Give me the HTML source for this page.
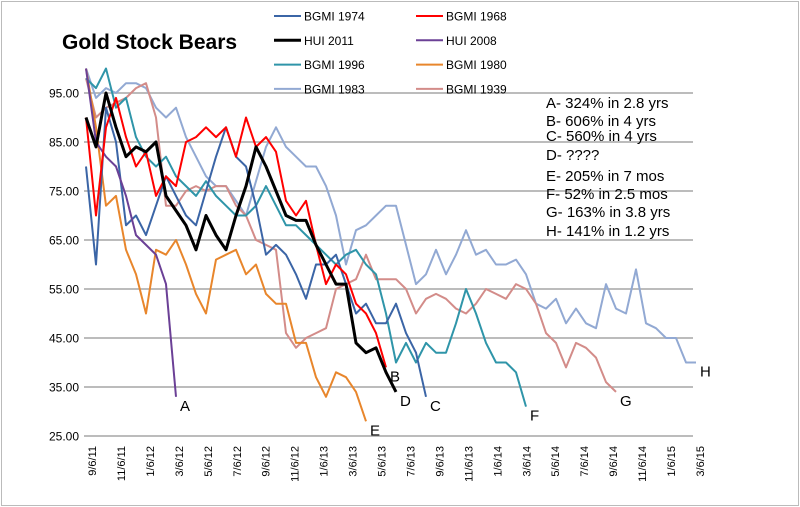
<!DOCTYPE html>
<html><head><meta charset="utf-8"><style>
body{margin:0;background:#fff;}
svg{display:block;font-family:"Liberation Sans",sans-serif;}
</style></head><body>
<svg id="chart" width="800" height="507" viewBox="0 0 800 507">
<rect x="1.5" y="1.5" width="797" height="504" fill="#fff" stroke="#bbb"/>
<text x="62" y="49" font-size="21" font-weight="bold" fill="#000">Gold Stock Bears</text>
<g id="grid"></g>
<g id="yaxis"></g>
<g id="xaxis"></g>
<g id="series"></g>
<g id="legend"></g>
<g id="notes" font-size="15" fill="#000"></g>
</svg>
<script>
const yTicks=[95,85,75,65,55,45,35,25];
const yTickLabels=["95.00","85.00","75.00","65.00","55.00","45.00","35.00","25.00"];
const xTickLabels=["9/6/11","11/6/11","1/6/12","3/6/12","5/6/12","7/6/12","9/6/12","11/6/12","1/6/13","3/6/13","5/6/13","7/6/13","9/6/13","11/6/13","1/6/14","3/6/14","5/6/14","7/6/14","9/6/14","11/6/14","1/6/15","3/6/15"];
const seriesNames=["BGMI 1983","BGMI 1939","BGMI 1980","BGMI 1996","BGMI 1974","HUI 2008","BGMI 1968","HUI 2011"];
// values sampled every 3 weeks
const bgmi1983=[100,94,96,95,97,97,96,92,90,92,86,82,78,76,76,73,70,77,84,88,84,82,80,80,76,70,60,67,68,70,72,72,64,56,58,63,58,62,67,62,63,60,60,61,58,52,51,53,48,51,48,47,56,51,50,59,48,47,45,45,40,40];
const bgmi1939=[98,90,92,93,94,96,97,90,72,72,75,76,75,76,76,72,70,65,64,63,46,43,45,46,47,55,56,57,62,57,57,57,55,50,53,54,53,51,50,52,55,54,53,56,55,52,46,44,39,44,43,41,36,34];
const bgmi1980=[100,88,72,74,63,58,50,63,62,65,60,54,50,61,62,63,58,60,54,52,52,44,44,37,33,38,37,34,28];
const bgmi1996=[98,96,100,92,94,86,82,80,82,78,76,74,77,74,72,70,70,72,76,72,68,68,66,64,62,60,62,63,60,58,50,40,44,40,44,42,42,48,55,50,44,40,40,38,31];
const bgmi1974=[80,60,92,85,68,70,66,72,78,74,70,68,75,82,88,82,80,72,62,64,62,58,53,60,60,62,56,50,52,48,48,52,46,42,33];
const hui2008=[100,85,82,80,74,66,64,62,56,33];
const bgmi1968=[90,70,88,94,86,80,83,74,78,76,85,86,88,86,88,82,90,84,86,83,73,70,73,64,56,60,58,52,50,46,39];
const hui2011=[90,84,95,88,82,84,83,85,74,71,68,63,70,66,63,70,76,84,80,75,70,69,69,64,60,56,56,44,42,43,38,34];
const seriesData=[bgmi1983,bgmi1939,bgmi1980,bgmi1996,bgmi1974,hui2008,bgmi1968,hui2011];
const seriesColors=["#92a9d3","#d38c89","#e8862c","#2f95a9","#3b65a6","#6b4096","#ff0000","#000000"];
const seriesWidths=[2,2,2,2,2,2,2,3];
const endLabels=["H","G","E","F","C","A","B","D"];
const noteLines=["A- 324% in 2.8 yrs","B- 606% in 4 yrs","C- 560% in 4 yrs","D- ????","E- 205% in 7 mos","F- 52% in 2.5 mos","G- 163% in 3.8 yrs","H- 141% in 1.2 yrs"];
const legendOrder=["BGMI 1974","BGMI 1968","HUI 2011","HUI 2008","BGMI 1996","BGMI 1980","BGMI 1983","BGMI 1939"];

const NS="http://www.w3.org/2000/svg";
const yS=v=>93+(95-v)*4.9;
const xS=i=>86+i*10;
const xTick=i=>92+i*28.95;
function mk(tag,attrs,parent){const e=document.createElementNS(NS,tag);for(const k in attrs)e.setAttribute(k,attrs[k]);parent.appendChild(e);return e;}
const grid=document.getElementById('grid'),yax=document.getElementById('yaxis'),xax=document.getElementById('xaxis');
yTicks.forEach((v,i)=>{
  const l=mk('line',{x1:84,x2:693,y1:yS(v),y2:yS(v),stroke:"#a6a6a6","stroke-width":1.5},grid);
  
  
  const t=mk('text',{x:79,y:yS(v)+4.5,"text-anchor":"end","font-size":12,fill:"#000"},yax);
  t.textContent=yTickLabels[i];
  
  
});
xTickLabels.forEach((s,i)=>{
  const x=xTick(i);
  const t=mk('text',{x:0,y:0,"text-anchor":"end","font-size":11,fill:"#000",transform:`translate(${x+4},446) rotate(-90)`},xax);
  t.textContent=s;
  
  
});
const ser=document.getElementById('series');
seriesData.forEach((d,k)=>{
  const pts=d.map((v,i)=>xS(i).toFixed(1)+","+yS(v).toFixed(1)).join(" ");
  const p=mk('polyline',{points:pts,fill:"none",stroke:seriesColors[k],"stroke-width":seriesWidths[k],"stroke-linejoin":"round"},ser);
  
  
  const n=d.length-1;
  const t=mk('text',{x:xS(n)+4,y:yS(d[n])+14,"font-size":15,fill:"#000"},ser);
  t.textContent=endLabels[k];
  
  
});
const leg=document.getElementById('legend');
legendOrder.forEach((nm,i)=>{
  const col=i%2,row=Math.floor(i/2);
  const k=seriesNames.indexOf(nm);
  const lx=col?416:274,ly=16+row*24.3;
  const g=mk('g',{},leg);
  
  
  mk('line',{x1:lx,x2:lx+27,y1:ly,y2:ly,stroke:seriesColors[k],"stroke-width":seriesWidths[k]},g);
  const t=mk('text',{x:lx+30,y:ly+4.5,"font-size":12,fill:"#000"},g);
  t.textContent=nm;
});
const notes=document.getElementById('notes');
const noteY=[108,126,141,160,181,199,217,236];
noteLines.forEach((s,i)=>{
  const t=mk('text',{x:546,y:noteY[i]},notes);
  t.textContent=s;
  
  
});
</script>
</body></html>
